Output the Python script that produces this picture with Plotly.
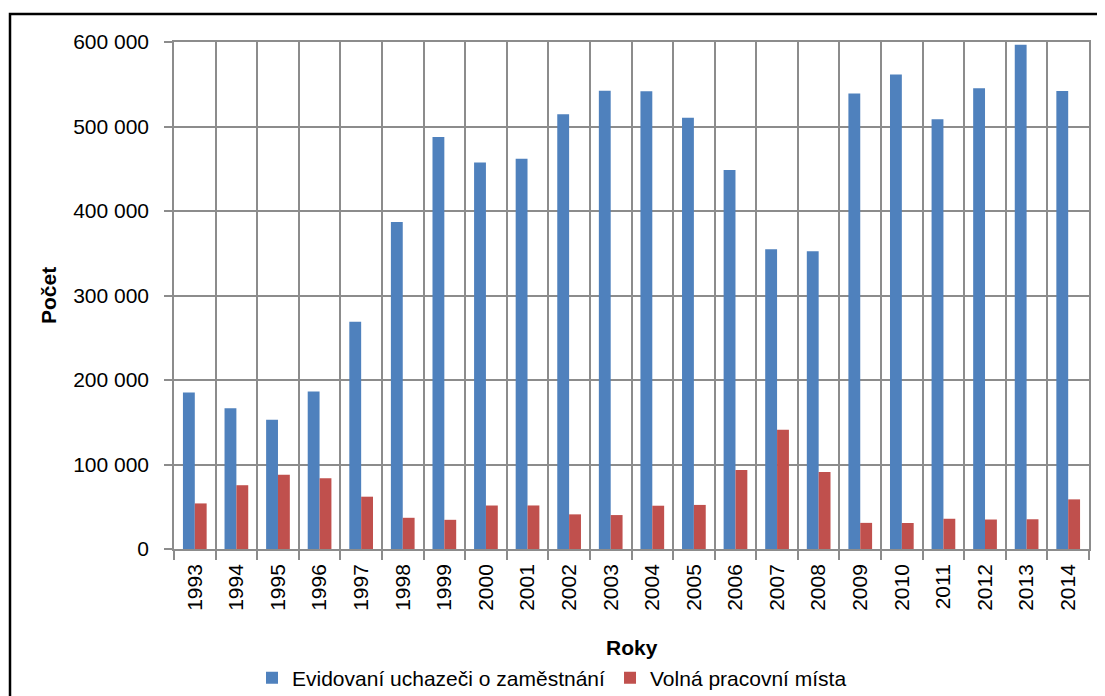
import plotly.graph_objects as go

years = [str(y) for y in range(1993, 2015)]
uchazeci = [185216, 166480, 153041, 186339, 268902, 386918, 487623, 457369, 461923, 514435,
            542420, 541675, 510416, 448545, 354878, 352250, 539136, 561551, 508451, 545311,
            596833, 541914]
mista = [53938, 75478, 87792, 83690, 61911, 36940, 34539, 51471, 51512, 40989,
         40168, 51230, 52164, 93431, 141066, 91189, 30927, 30803, 35784, 34893,
         35178, 58739]
series_names = ["Evidovaní uchazeči o zaměstnání", "Volná pracovní místa"]
y_ticks = [0, 100000, 200000, 300000, 400000, 500000, 600000]
y_tick_text = ["0", "100 000", "200 000", "300 000", "400 000", "500 000", "600 000"]

W, H = 1105, 696
OFF = 8  # page body margin
L, R, T, B = 174 - OFF, 1089 - OFF, 42 - OFF, 549 - OFF
pw, ph = R - L, B - T

def px(x):
    return (x - OFF - L) / pw

def py(y):
    return (B - (y - OFF)) / ph

FONT = "Liberation Sans, Arial, sans-serif"
grid = "#8c8c8c"
FS = 21

fig = go.Figure()
fig.add_trace(go.Bar(x=years, y=uchazeci, name=series_names[0],
                     marker=dict(color="#4F81BD", line=dict(width=0))))
fig.add_trace(go.Bar(x=years, y=mista, name=series_names[1],
                     marker=dict(color="#C0504D", line=dict(width=0))))

fig.update_layout(
    width=W, height=H,
    margin=dict(l=L, r=W - R, t=T, b=H - B, autoexpand=False),
    paper_bgcolor="white", plot_bgcolor="white",
    barmode="group", bargap=0.43, bargroupgap=0,
    font=dict(family=FONT, size=FS, color="black"),
    showlegend=True,
    legend=dict(orientation="h", xref="container", yref="container",
                x=(252 - OFF) / W, xanchor="left", y=(H - (678 - OFF)) / H, yanchor="middle",
                font=dict(size=FS), itemwidth=30, tracegroupgap=0,
                bgcolor="rgba(0,0,0,0)"),
    xaxis=dict(type="category", tickson="boundaries", ticks="outside", ticklen=9,
               tickcolor=grid, tickwidth=1.5, showgrid=True, gridcolor=grid, gridwidth=1.5,
               showline=True, linecolor=grid, linewidth=1.5, mirror=True, automargin=False,
               tickangle=-90, tickfont=dict(size=FS), ticklabelstandoff=5),
    yaxis=dict(range=[0, 600000], tickvals=y_ticks, ticktext=y_tick_text,
               ticks="outside", ticklen=8, tickcolor=grid, tickwidth=1.5, automargin=False,
               showgrid=True, gridcolor=grid, gridwidth=1.5, zeroline=False,
               showline=True, linecolor=grid, linewidth=1.5, mirror=True,
               tickfont=dict(size=FS), ticklabelstandoff=11),
    annotations=[
        dict(text="<b>Počet</b>", xref="paper", yref="paper", x=px(48), y=py(295),
             xanchor="center", yanchor="middle", textangle=-90, showarrow=False,
             font=dict(size=FS)),
        dict(text="<b>Roky</b>", xref="paper", yref="paper", x=px(632), y=py(648),
             xanchor="center", yanchor="middle", showarrow=False, font=dict(size=FS)),
    ],
    shapes=[
        dict(type="rect", xref="paper", yref="paper", x0=px(10), x1=px(1125),
             y0=py(720), y1=py(14), line=dict(color="black", width=2.5),
             fillcolor="rgba(0,0,0,0)", layer="above"),
    ],
)

fig.write_html("out.html")
